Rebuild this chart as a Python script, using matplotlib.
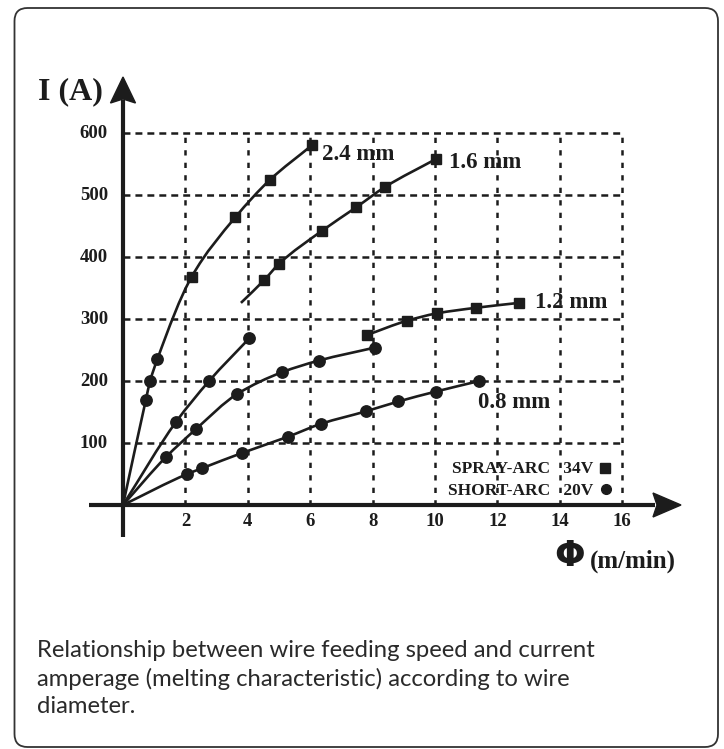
import matplotlib
matplotlib.use("Agg")
import matplotlib.pyplot as plt
from matplotlib.patches import FancyBboxPatch, Polygon, PathPatch
from matplotlib.path import Path
from matplotlib.transforms import IdentityTransform

plt.rcParams['lines.scale_dashes'] = False

# ---------------- data ----------------
x_ticks = [2, 4, 6, 8, 10, 12, 14, 16]
y_ticks = [100, 200, 300, 400, 500, 600]

# 2.4 mm
d24_short_x = [0.73, 0.87, 1.10]
d24_short_y = [169, 200, 235]
d24_spray_x = [2.2, 3.6, 4.7, 6.05]
d24_spray_y = [368, 464, 524, 580]
# 1.6 mm
d16_short_x = [1.70, 2.76, 4.05]
d16_short_y = [134, 200, 269]
d16_spray_x = [4.53, 5.0, 6.37, 7.47, 8.4, 10.03]
d16_spray_y = [363, 389, 442, 480, 513, 558]
d16_spray_start_x = [3.78]
d16_spray_start_y = [326]
# 1.2 mm
d12_short_x = [1.37, 2.33, 3.66, 5.09, 6.28, 8.08]
d12_short_y = [77, 122, 179, 214, 233, 254]
d12_spray_x = [7.81, 9.09, 10.05, 11.3, 12.69]
d12_spray_y = [274, 297, 309, 318, 326]
# 0.8 mm
d08_short_x = [2.06, 2.52, 3.82, 5.28, 6.35, 7.78, 8.83, 10.03, 11.42]
d08_short_y = [50, 59, 84, 110, 131, 151, 167, 183, 200]

wire_labels = ["2.4 mm", "1.6 mm", "1.2 mm", "0.8 mm"]
legend_labels = ["SPRAY-ARC   34V", "SHORT-ARC   20V"]
caption = ("Relationship between wire feeding speed and current\n"
           "amperage (melting characteristic) according to wire\n"
           "diameter.")

# ---------------- layout helpers ----------------
W, H = 724, 749
X0, SX = 123.0, 31.2     # pixel of x=0, pixels per unit
Y0, SY = 505.0, 0.62     # pixel of y=0, pixels per unit

def px(p):
    return (p - X0) / SX

def py(p):
    return (Y0 - p) / SY

INK = "#1c1c1c"
SERIF = ["Liberation Serif", "DejaVu Serif"]

fig = plt.figure(figsize=(W / 100, H / 100), dpi=100)
ax = fig.add_axes([0, 0, 1, 1])
ax.set_xlim(px(0), px(W))
ax.set_ylim(py(H), py(0))
ax.axis("off")

# border
border = FancyBboxPatch((14.5, H - 747), 718 - 14.5, 747 - 8,
                        boxstyle="round,pad=0,rounding_size=13",
                        transform=IdentityTransform(), fill=False,
                        edgecolor="#333333", linewidth=1.3)
fig.add_artist(border)

# grid
xmax, ymax = x_ticks[-1], y_ticks[-1]
for yv in y_ticks:
    ax.plot([0, xmax], [yv, yv], color=INK, lw=1.8, dashes=(5, 3.6),
            solid_capstyle="butt", dash_capstyle="butt", zorder=1)
for xv in x_ticks:
    ax.plot([xv, xv], [0, ymax], color=INK, lw=1.8, dashes=(3.8, 5.2),
            dash_capstyle="butt", zorder=1)

# axes lines
ax.plot([px(89), px(655)], [0, 0], color=INK, lw=3.0, solid_capstyle="butt", zorder=3)
ax.plot([0, 0], [py(537), py(100)], color=INK, lw=3.0, solid_capstyle="butt", zorder=3)
# arrow heads
ax.add_patch(Polygon([(px(681), 0), (px(653), py(493)), (px(657), 0), (px(653), py(517))],
                     closed=True, color=INK, zorder=4))
ax.add_patch(Polygon([(0, py(77)), (px(110.5), py(103)), (0, py(99)), (px(135.5), py(103))],
                     closed=True, color=INK, zorder=4))

# smooth monotone curves through the points (PCHIP tangents, drawn as Bezier path)
LW = 1.9
def curve(xs, ys):
    n = len(xs)
    h = [xs[i + 1] - xs[i] for i in range(n - 1)]
    d = [(ys[i + 1] - ys[i]) / h[i] for i in range(n - 1)]
    m = [0.0] * n
    m[0], m[-1] = d[0], d[-1]
    for k in range(1, n - 1):
        if d[k - 1] * d[k] <= 0:
            m[k] = 0.0
        else:
            w1 = 2 * h[k] + h[k - 1]
            w2 = h[k] + 2 * h[k - 1]
            m[k] = (w1 + w2) / (w1 / d[k - 1] + w2 / d[k])
    verts = [(xs[0], ys[0])]
    codes = [Path.MOVETO]
    for i in range(n - 1):
        t = h[i] / 3
        verts += [(xs[i] + t, ys[i] + m[i] * t),
                  (xs[i + 1] - t, ys[i + 1] - m[i + 1] * t),
                  (xs[i + 1], ys[i + 1])]
        codes += [Path.CURVE4] * 3
    ax.add_patch(PathPatch(Path(verts, codes), fill=False, edgecolor=INK,
                           lw=LW, zorder=5, capstyle="butt"))

curve([0] + d24_short_x + d24_spray_x, [0] + d24_short_y + d24_spray_y)
curve([0] + d16_short_x, [0] + d16_short_y)
curve(d16_spray_start_x + d16_spray_x, d16_spray_start_y + d16_spray_y)
curve([0] + d12_short_x, [0] + d12_short_y)
curve(d12_spray_x, d12_spray_y)
curve([0] + d08_short_x, [0] + d08_short_y)

SQ = dict(marker="s", ms=7.6, color=INK, ls="none", zorder=6)
CI = dict(marker="o", ms=8.2, color=INK, ls="none", zorder=6)
for xs, ys in [(d24_spray_x, d24_spray_y), (d16_spray_x, d16_spray_y), (d12_spray_x, d12_spray_y)]:
    ax.plot(xs, ys, **SQ)
for xs, ys in [(d24_short_x, d24_short_y), (d16_short_x, d16_short_y),
               (d12_short_x, d12_short_y), (d08_short_x, d08_short_y)]:
    ax.plot(xs, ys, **CI)

# tick labels
for yv in y_ticks:
    ax.text(px(108), yv, str(yv), ha="right", va="center", fontsize=13.5,
            fontweight="bold", family=SERIF, color=INK)
for xv in x_ticks:
    ax.text(xv, py(522), str(xv), ha="center", va="center", fontsize=13.5,
            fontweight="bold", family=SERIF, color=INK)

# wire labels
label_pos = [(322, 155), (449, 163), (535, 302), (478, 403)]
for lab, (lx, ly) in zip(wire_labels, label_pos):
    ax.text(px(lx), py(ly), lab, ha="left", va="center", fontsize=16.5,
            fontweight="bold", family=SERIF, color=INK, zorder=7)

# legend
ax.text(px(593), py(469), legend_labels[0], ha="right", va="center", fontsize=12.5,
        fontweight="bold", family=SERIF, color=INK)
ax.text(px(593), py(491), legend_labels[1], ha="right", va="center", fontsize=12.5,
        fontweight="bold", family=SERIF, color=INK)
ax.plot([px(605)], [py(468)], marker="s", ms=6.5, color=INK, ls="none")
ax.plot([px(606)], [py(489)], marker="o", ms=7.0, color=INK, ls="none")

# axis titles
ax.text(px(38), py(92), "I (A)", ha="left", va="center", fontsize=23,
        fontweight="bold", family=SERIF, color=INK)
ax.text(px(570), py(556), "Φ", ha="center", va="center", fontsize=26,
        fontweight="bold", family=["DejaVu Sans"], color=INK)
ax.text(px(590), py(561), "(m/min)", ha="left", va="center", fontsize=18,
        fontweight="bold", family=SERIF, color=INK)

# caption
ax.text(px(37), py(640), caption, ha="left", va="top", fontsize=17.2,
        family=["Lato", "DejaVu Sans"], color="#2a2a2a", linespacing=1.38)

fig.savefig("out.png", dpi=100)
